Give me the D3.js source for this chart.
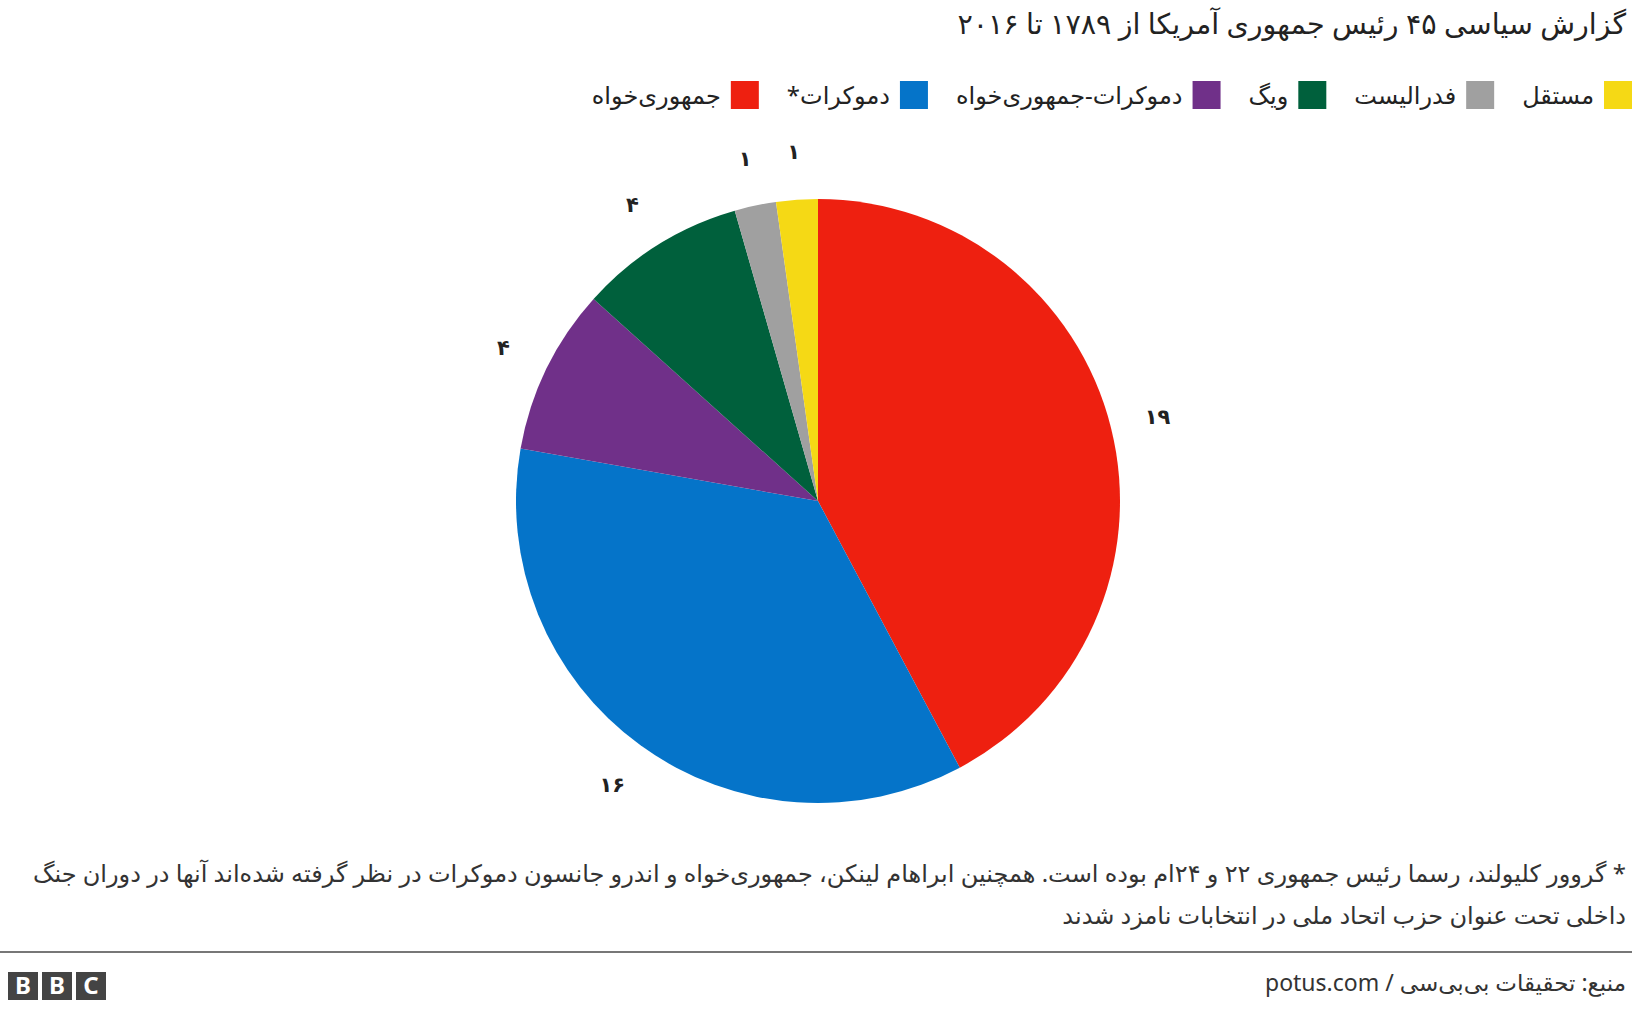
<!DOCTYPE html><html><head><meta charset="utf-8"><script src="https://d3js.org/d3.v7.min.js"></script>
<style>body{margin:0;background:#fff}text{font-family:"Noto Sans","DejaVu Sans",sans-serif}</style></head><body><svg width="1632" height="1010"></svg>
<script>
const parties=["جمهوری‌خواه","دموکرات*","دموکرات-جمهوری‌خواه","ویگ","فدرالیست","مستقل"];
const counts=[19,16,4,4,1,1];
const labels=["۱۹","۱۶","۴","۴","۱","۱"];
const colors=["#ee2010","#0574c9","#703089","#00603c","#a0a0a0","#f5d915"];
const svg=d3.select("svg");
function rt(x,y,s,size,fill){return svg.append("text").attr("x",x).attr("y",y).attr("text-anchor","start").attr("direction","rtl").attr("font-size",size).attr("fill",fill).text(s);}
rt(1626,34,"گزارش سیاسی ۴۵ رئیس جمهوری آمریکا از ۱۷۸۹ تا ۲۰۱۶",28.5,"#222");
let x=1632;
for(let i=parties.length-1;i>=0;i--){
  svg.append("rect").attr("x",x-28).attr("y",81).attr("width",28).attr("height",28).attr("fill",colors[i]);
  const t=rt(x-38,104,parties[i],24,"#222");
  x=x-38-t.node().getComputedTextLength()-28;
}
const cx=818,cy=501,r=302;
const pie=d3.pie().sort(null)(counts);
const arc=d3.arc().innerRadius(0).outerRadius(r);
const g=svg.append("g").attr("transform",`translate(${cx},${cy})`);
g.selectAll("path").data(pie).join("path").attr("d",arc).attr("fill",(d,i)=>colors[i]);
const la=d3.arc().innerRadius(350).outerRadius(350);
g.selectAll("text.l").data(pie).join("text").attr("class","l").attr("transform",d=>`translate(${la.centroid(d)})`).attr("text-anchor","middle").attr("dy","0.35em").attr("font-size",21).attr("font-weight","bold").attr("fill","#222").text((d,i)=>labels[i]);
const fn=["* گروور کلیولند، رسما رئیس جمهوری ۲۲ و ۲۴ام بوده است. همچنین ابراهام لینکن، جمهوری‌خواه و اندرو جانسون دموکرات در نظر گرفته شده‌اند آنها در دوران جنگ","داخلی تحت عنوان حزب اتحاد ملی در انتخابات نامزد شدند"];
fn.forEach((s,i)=>rt(1626,882+i*42,s,24,"#333"));
svg.append("line").attr("x1",0).attr("x2",1632).attr("y1",952).attr("y2",952).attr("stroke","#777").attr("stroke-width",2);
rt(1626,991,"منبع: تحقیقات بی‌بی‌سی / potus.com",23,"#333");
["B","B","C"].forEach((c,i)=>{const bx=8+i*34;svg.append("rect").attr("x",bx).attr("y",972).attr("width",30).attr("height",28).attr("fill","#444");
svg.append("text").attr("x",bx+15).attr("y",994).attr("text-anchor","middle").attr("font-size",24).attr("font-weight","bold").attr("fill","#fff").attr("font-family","Liberation Sans, Arial").text(c);});
</script></body></html>
